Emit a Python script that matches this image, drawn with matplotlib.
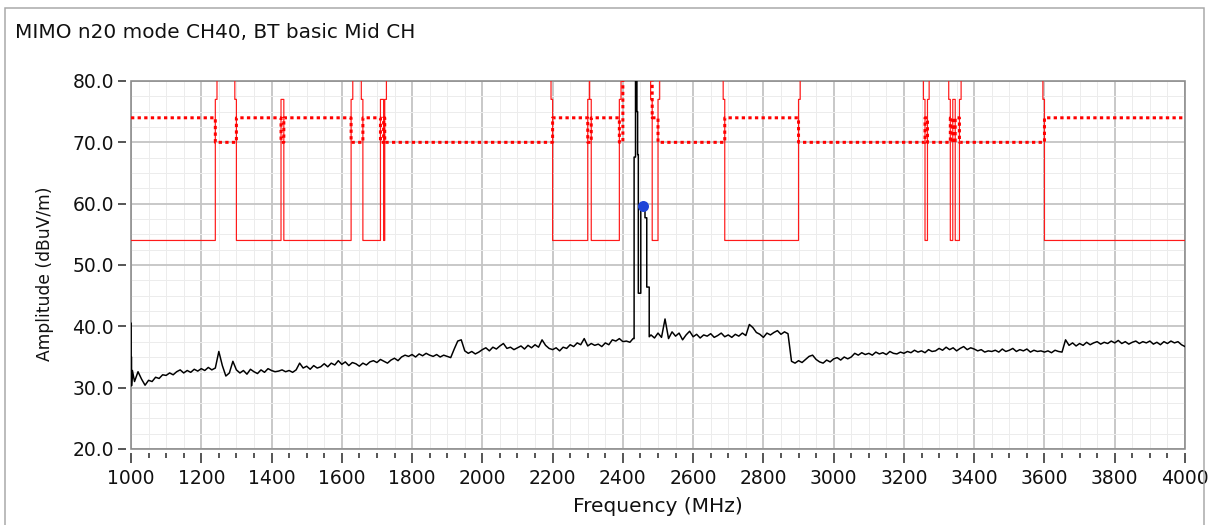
import numpy as np
import matplotlib
matplotlib.use("Agg")
import matplotlib.pyplot as plt
from matplotlib.patches import Rectangle
from matplotlib.ticker import MultipleLocator, FormatStrFormatter

# ---- labels -------------------------------------------------------------
title = "MIMO n20 mode CH40, BT basic Mid CH"
x_label = "Frequency (MHz)"
y_label = "Amplitude (dBuV/m)"

# ---- limit definitions ---------------------------------------------------
# restricted bands (MHz)
restricted_bands = [
    (960.0, 1240.0), (1300.0, 1427.0), (1435.0, 1626.5), (1660.0, 1710.0),
    (1718.8, 1722.2), (2200.0, 2300.0), (2310.0, 2390.0), (2483.5, 2500.0),
    (2690.0, 2900.0), (3260.0, 3267.0), (3332.0, 3339.0), (3345.8, 3358.0),
    (3600.0, 4400.0),
]
fundamental_band = (2400.0, 2483.5)

avg_limit_restricted = 54.0
peak_limit_restricted = 74.0
peak_limit_other = 70.0
avg_limit_edge = 77.0
limit_off_scale = 100.0
edge_width_mhz = 4.7

# ---- measured trace -------------------------------------------------------
# first sweep points at the band start
start_freq = [1000.5, 1000.5, 1001.5, 1001.5, 1004.0]
start_db = [40.5, 35.0, 35.0, 30.3, 32.8]
# 1010 .. 2420 MHz, 10 MHz steps
scan_low_start = 1010
scan_low_db = [
    31.0, 32.6, 31.4, 30.4, 31.2, 31.0, 31.7, 31.5, 32.1,
    32.0, 32.4, 32.1, 32.6, 32.9, 32.4, 32.8, 32.5, 33.0, 32.7,
    33.1, 32.8, 33.3, 32.9, 33.2, 35.9, 33.6, 31.9, 32.4, 34.3,
    32.9, 32.4, 32.8, 32.2, 33.0, 32.6, 32.3, 32.9, 32.5, 33.1,
    32.8, 32.6, 32.7, 32.9, 32.6, 32.8, 32.5, 32.9, 34.0, 33.2,
    33.5, 33.0, 33.6, 33.2, 33.4, 33.9, 33.4, 34.0, 33.7, 34.4,
    33.8, 34.2, 33.6, 34.1, 33.9, 33.5, 34.0, 33.7, 34.2, 34.4,
    34.1, 34.6, 34.3, 34.0, 34.5, 34.8, 34.4, 35.0, 35.3, 35.1,
    35.4, 35.0, 35.5, 35.2, 35.6, 35.3, 35.1, 35.4, 35.0, 35.3,
    35.1, 34.9, 36.3, 37.6, 37.8, 36.0, 35.6, 35.9, 35.5, 35.8,
    36.2, 36.5, 36.0, 36.6, 36.3, 36.8, 37.2, 36.4, 36.6, 36.2,
    36.5, 36.8, 36.3, 36.9, 36.5, 37.0, 36.6, 37.8, 36.9, 36.4,
    36.2, 36.5, 36.0, 36.6, 36.4, 37.0, 36.7, 37.3, 37.0, 38.0,
    36.8, 37.2, 36.9, 37.1, 36.7, 37.3, 37.0, 37.8, 37.6, 38.0,
    37.5, 37.6, 37.4,
]
# emission cluster around the carriers (corner points of the sweep)
burst_freq = [2429.0, 2432.0, 2432.0, 2436.0, 2436.0, 2440.0, 2440.0, 2442.0, 2442.0,
              2444.0, 2444.0, 2451.0, 2451.0, 2463.0, 2463.0, 2468.0, 2468.0, 2475.0, 2475.0]
burst_db = [38.0, 38.0, 67.6, 67.6, 96.0, 96.0, 75.0, 75.0, 68.0,
            68.0, 45.4, 45.4, 59.6, 59.6, 57.7, 57.7, 46.4, 46.4, 38.3]
# 2480 .. 4000 MHz, 10 MHz steps
scan_high_start = 2480
scan_high_db = [
    38.6, 38.1,
    38.9, 38.2, 41.2, 38.0, 39.1, 38.4, 38.9, 37.8, 38.6, 39.2,
    38.3, 38.7, 38.1, 38.6, 38.4, 38.8, 38.2, 38.5, 38.9, 38.3,
    38.6, 38.2, 38.7, 38.4, 38.9, 38.5, 40.3, 39.8, 39.0, 38.7,
    38.2, 38.9, 38.6, 39.0, 39.3, 38.7, 39.1, 38.8, 34.3, 34.0,
    34.4, 34.1, 34.6, 35.1, 35.3, 34.6, 34.2, 34.0, 34.5, 34.2,
    34.7, 34.9, 34.5, 35.0, 34.7, 35.0, 35.6, 35.3, 35.7, 35.4,
    35.6, 35.3, 35.8, 35.5, 35.7, 35.4, 35.9, 35.6, 35.5, 35.8,
    35.6, 35.9, 35.7, 36.1, 35.8, 36.0, 35.7, 36.2, 35.9, 36.0,
    36.4, 36.1, 36.6, 36.2, 36.5, 36.0, 36.4, 36.7, 36.2, 36.5,
    36.3, 36.0, 36.2, 35.8, 36.0, 35.9, 36.1, 35.8, 36.3, 35.9,
    36.1, 36.4, 35.9, 36.2, 36.0, 36.3, 35.8, 36.1, 35.9, 36.0,
    35.8, 36.0, 35.7, 36.1, 35.9, 35.8, 37.8, 36.9, 37.3, 36.8,
    37.2, 36.9, 37.4, 37.0, 37.3, 37.5, 37.1, 37.4, 37.2, 37.6,
    37.3, 37.7, 37.2, 37.5, 37.1, 37.4, 37.6, 37.2, 37.5, 37.3,
    37.6, 37.1, 37.4, 37.0, 37.5, 37.2, 37.6, 37.3, 37.5, 37.0,
    36.7,
]
scan_step_mhz = 10

marker_freq = 2458.0
marker_db = 59.6

x_range = (1000, 4000)
y_range = (20, 80)

# ---- build arrays ---------------------------------------------------------
freq = np.concatenate([
    np.array(start_freq),
    scan_low_start + scan_step_mhz * np.arange(len(scan_low_db)),
    np.array(burst_freq),
    scan_high_start + scan_step_mhz * np.arange(len(scan_high_db)),
])
level = np.concatenate([start_db, scan_low_db, burst_db, scan_high_db])

f_lim = np.arange(x_range[0], x_range[1] + 0.25, 0.25)
in_restricted = np.zeros_like(f_lim, dtype=bool)
gap = np.full_like(f_lim, np.inf)
for lo, hi in restricted_bands:
    in_restricted |= (f_lim >= lo) & (f_lim < hi)
    gap = np.minimum(gap, np.where(f_lim < lo, lo - f_lim, np.where(f_lim >= hi, f_lim - hi, 0.0)))
in_fund = (f_lim >= fundamental_band[0]) & (f_lim < fundamental_band[1])

avg_limit = np.where(in_restricted, avg_limit_restricted,
                     np.where(gap < edge_width_mhz, avg_limit_edge, limit_off_scale))
peak_limit = np.where(in_restricted, peak_limit_restricted,
                      np.where(in_fund, limit_off_scale, peak_limit_other))

# ---- figure ---------------------------------------------------------------
W, H, DPI = 1209, 525, 100
PT = 72.0 / DPI  # points per pixel
plt.rcParams['font.family'] = ['DejaVu Sans']
fig = plt.figure(figsize=(W / DPI, H / DPI), dpi=DPI, facecolor='white')

# outer panel frame
fig.patches.append(Rectangle((5 / W, -0.05), (1204 - 5) / W, 1.05 - 8 / H,
                             transform=fig.transFigure, fill=False,
                             edgecolor='#a8a8a8', linewidth=1.5 * PT))

left, right, top, bottom = 131, 1185, 81, 449
ax = fig.add_axes([left / W, 1 - bottom / H, (right - left) / W, (bottom - top) / H])
ax.set_xlim(*x_range)
ax.set_ylim(*y_range)

ax.xaxis.set_major_locator(MultipleLocator(200))
ax.xaxis.set_minor_locator(MultipleLocator(50))
ax.yaxis.set_major_locator(MultipleLocator(10))
ax.yaxis.set_minor_locator(MultipleLocator(2.5))
ax.yaxis.set_major_formatter(FormatStrFormatter('%.1f'))

ax.set_axisbelow(True)
ax.grid(which='minor', color='#ececec', linewidth=1.0 * PT)
ax.grid(which='major', color='#c4c4c4', linewidth=1.8 * PT)

for s in ax.spines.values():
    s.set_visible(False)
ax.spines['left'].set_position(('outward', 5 * PT))
ax.spines['bottom'].set_position(('outward', 4 * PT))

ax.tick_params(axis='y', which='major', length=8 * PT, width=1.6 * PT, color='#303030',
               pad=4 * PT, labelsize=13.5, labelcolor='#111111')
ax.tick_params(axis='y', which='minor', length=0)
ax.tick_params(axis='x', which='major', length=10 * PT, width=1.6 * PT, color='#303030',
               pad=6 * PT, labelsize=13.5, labelcolor='#111111')
ax.tick_params(axis='x', which='minor', length=5 * PT, width=1.6 * PT, color='#303030')

# plot-area border
ax.add_patch(Rectangle((0, 0), 1, 1, transform=ax.transAxes, fill=False,
                       edgecolor='#8a8a8a', linewidth=1.6 * PT, zorder=1.5, clip_on=False))

# limits
ax.plot(f_lim, avg_limit, drawstyle='steps-post', color='#ff1a1a', linewidth=1.2 * PT, zorder=2)
ax.plot(f_lim, peak_limit, drawstyle='steps-post', color='#ff0000', linewidth=3.0 * PT,
        linestyle=(0, (1.1, 1.1)), zorder=2)

# measured trace
ax.plot(freq, level, color='#000000', linewidth=1.5 * PT, zorder=3)
ax.plot([marker_freq], [marker_db], 'o', color='#1f45d8', markersize=11 * PT,
        markeredgewidth=0, zorder=4)

fig.text(15 / W, 1 - 32 / H, title, ha='left', va='center', fontsize=14.4, color='#111111')
fig.text(658 / W, 1 - 507 / H, x_label, ha='center', va='center', fontsize=14.5, color='#111111')
fig.text(45 / W, 1 - 274 / H, y_label, ha='center', va='center', rotation=90,
         fontsize=12.3, color='#111111')

fig.savefig('out.png', dpi=DPI, facecolor='white')
